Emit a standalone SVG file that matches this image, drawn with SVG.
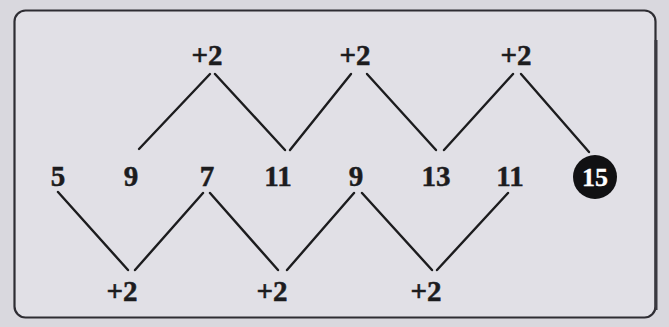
<svg xmlns="http://www.w3.org/2000/svg" width="669" height="327" viewBox="0 0 669 327">
<style>
.t{font-family:"Liberation Serif","Times New Roman",serif;font-weight:bold;font-size:29px;fill:#1c1c1e;stroke:#1c1c1e;stroke-width:0.5;text-anchor:middle}
.w{fill:#ffffff;stroke:#ffffff;stroke-width:0.3;font-size:26px}
.c line{stroke:#1c1c1e;stroke-width:2.4;stroke-linecap:round}
</style>
<rect x="0" y="0" width="669" height="327" fill="#d9d8de"/>
<rect id="frame" x="14.5" y="10.5" width="641" height="307" rx="11" fill="#e1e0e6" stroke="#2e2d33" stroke-width="2.2"/>
<line x1="656" y1="40" x2="656" y2="310" stroke="#3a3940" stroke-width="3"/>
<g id="connectors" class="c">
<line x1="139" y1="149" x2="210" y2="74"/>
<line x1="215" y1="74" x2="285" y2="150"/>
<line x1="290" y1="150" x2="351" y2="74"/>
<line x1="367" y1="74" x2="436" y2="150"/>
<line x1="444" y1="150" x2="513" y2="74"/>
<line x1="521" y1="74" x2="589" y2="152"/>
<line x1="58" y1="192" x2="128" y2="270"/>
<line x1="135" y1="270" x2="203" y2="193"/>
<line x1="210" y1="193" x2="278" y2="270"/>
<line x1="287" y1="270" x2="354" y2="193"/>
<line x1="362" y1="193" x2="432" y2="270"/>
<line x1="437" y1="270" x2="508" y2="193"/>
</g>
<g id="n5"><text class="t" x="58" y="186">5</text></g>
<g id="n9a"><text class="t" x="131" y="186">9</text></g>
<g id="n7"><text class="t" x="207" y="186">7</text></g>
<g id="n11a"><text class="t" x="278" y="186">11</text></g>
<g id="n9b"><text class="t" x="356" y="186">9</text></g>
<g id="n13"><text class="t" x="436" y="186">13</text></g>
<g id="n11b"><text class="t" x="510" y="186">11</text></g>
<g id="n15"><circle cx="595" cy="177" r="22" fill="#111113"/><text class="t w" x="595" y="186">15</text></g>
<g id="p1"><text class="t" x="207" y="65">+2</text></g>
<g id="p2"><text class="t" x="355" y="65">+2</text></g>
<g id="p3"><text class="t" x="516" y="65">+2</text></g>
<g id="p4"><text class="t" x="122" y="301">+2</text></g>
<g id="p5"><text class="t" x="272" y="301">+2</text></g>
<g id="p6"><text class="t" x="426" y="301">+2</text></g>
</svg>
